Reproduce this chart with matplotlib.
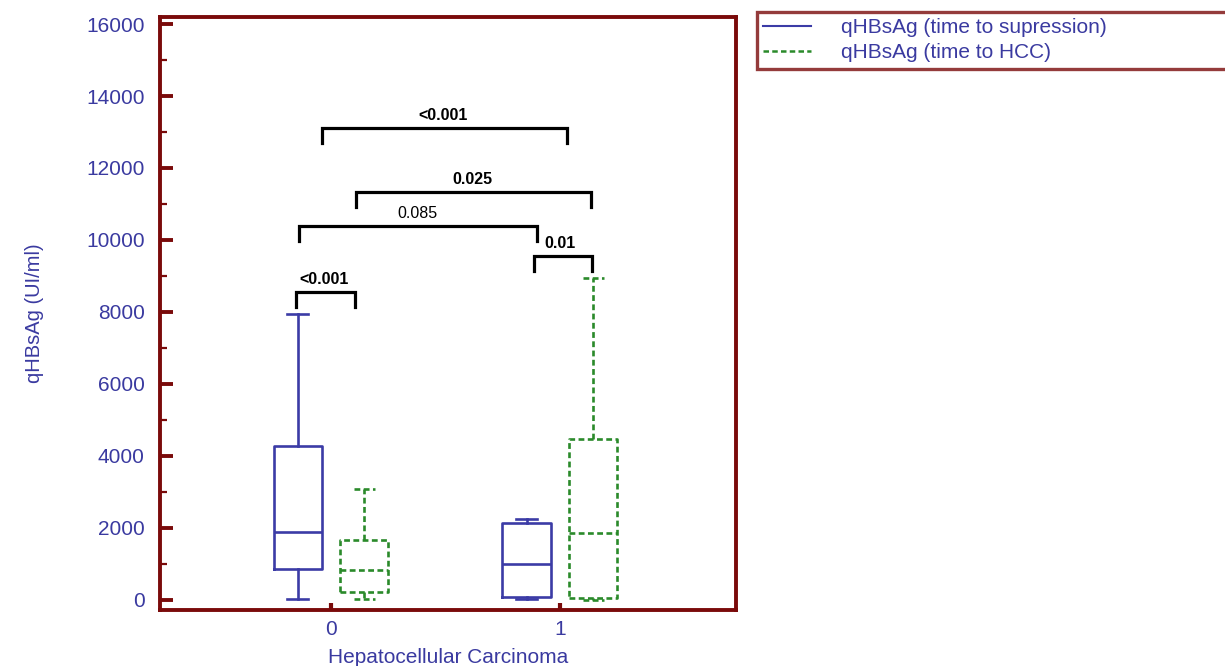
import matplotlib
matplotlib.use("Agg")
import matplotlib.pyplot as plt
from matplotlib.lines import Line2D

plt.rcParams["font.family"] = ["Liberation Sans", "DejaVu Sans"]

# categories (Hepatocellular Carcinoma)
categories = [0, 1]
series_names = ["qHBsAg (time to supression)", "qHBsAg (time to HCC)"]

# box stats per category: [low whisker, q1, median, q3, high whisker]
supression_stats = [
    [30, 860, 1890, 4280, 7950],
    [30, 90, 1000, 2130, 2260],
]
hcc_stats = [
    [30, 230, 830, 1670, 3090],
    [0, 50, 1860, 4470, 8950],
]

# significance brackets
brackets_x0 = [-0.04, 0.109, -0.14, 0.886, -0.153]
brackets_x1 = [1.03, 1.134, 0.90, 1.14, 0.105]
brackets_y = [13111, 11333, 10389, 9556, 8556]
brackets_label = ["<0.001", "0.025", "0.085", "0.01", "<0.001"]
brackets_bold = [True, True, False, True, True]
brackets_textx = [0.49, 0.62, 0.376, 1.0, -0.03]

BLUE = "#3b3ba6"
GREEN = "#2a8a2a"
RED = "#7a0a0a"
TXT = "#3a3aa0"

fig = plt.figure(figsize=(12.25, 6.66), dpi=100)
ax = fig.add_axes([0.1306, 0.0841, 0.4702, 0.8904])


def to_stats(rows):
    out = []
    for lo, q1, med, q3, hi in rows:
        out.append({"whislo": lo, "q1": q1, "med": med, "q3": q3, "whishi": hi, "fliers": []})
    return out


offset = 0.146
width = 0.21
dash = (0, (2.2, 1.3))
for stats, sign, color, ls in [
    (supression_stats, -1, BLUE, "-"),
    (hcc_stats, 1, GREEN, dash),
]:
    pos = [c + sign * offset for c in categories]
    lp = dict(color=color, linewidth=1.9, linestyle=ls)
    ax.bxp(
        to_stats(stats),
        positions=pos,
        widths=width,
        showfliers=False,
        boxprops=lp,
        whiskerprops=lp,
        capprops=lp,
        medianprops=lp,
        capwidths=width * 0.45,
        manage_ticks=False,
    )

leg_h = 430
for x0, x1, y, lab, bold, tx in zip(brackets_x0, brackets_x1, brackets_y,
                                    brackets_label, brackets_bold, brackets_textx):
    ax.plot([x0, x0, x1, x1], [y - leg_h, y, y, y - leg_h], color="black", lw=2.3,
            solid_joinstyle="miter")
    ax.text(tx, y + 150, lab, ha="center", va="bottom",
            fontsize=11.5, fontweight="bold" if bold else "normal", color="black")

ax.set_xlim(-0.747, 1.769)
ax.set_ylim(-278, 16195)
ax.set_xticks(categories)
ax.set_xticklabels([str(c) for c in categories])
ax.set_yticks(range(0, 16001, 2000))
ax.set_yticks(range(1000, 16000, 2000), minor=True)

for s in ax.spines.values():
    s.set_color(RED)
    s.set_linewidth(2.8)
ax.tick_params(axis="y", which="major", direction="in", length=9, width=2.8, color=RED,
               labelcolor=TXT, labelsize=15, pad=11)
ax.tick_params(axis="y", which="minor", direction="in", length=5, width=1.6, color=RED)
ax.tick_params(axis="x", which="major", direction="in", length=5, width=3, color=RED,
               labelcolor=TXT, labelsize=15, pad=7)

ax.set_ylabel("qHBsAg (UI/ml)", color=TXT, fontsize=14.5, labelpad=30)
ax.set_xlabel("Hepatocellular Carcinoma", color=TXT, fontsize=15, labelpad=7)

handles = [
    Line2D([], [], color=BLUE, lw=1.5, linestyle="-"),
    Line2D([], [], color=GREEN, lw=1.8, linestyle=(0, (2.2, 1.3))),
]
leg = fig.legend(handles, series_names, loc="upper left",
                 bbox_to_anchor=(0.618, 0.982 - 0.083, 0.45, 0.083), mode="expand",
                 fontsize=15, labelcolor=TXT, frameon=True, fancybox=False,
                 handlelength=2.3, handletextpad=1.45, borderpad=0.3, labelspacing=0.3,
                 borderaxespad=0)
leg.get_frame().set_edgecolor(RED)
leg.get_frame().set_linewidth(2.4)

fig.savefig("out.png", dpi=100)
